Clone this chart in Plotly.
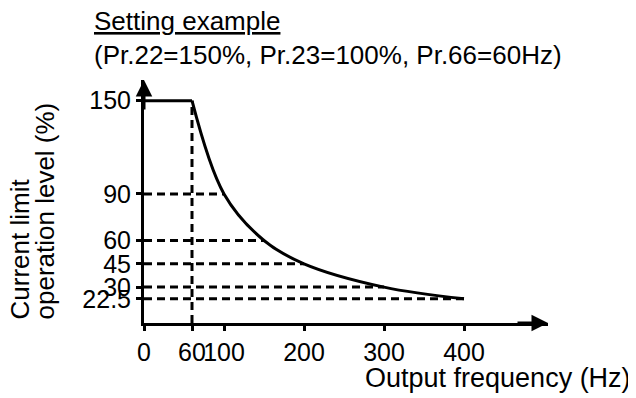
import plotly.graph_objects as go

# --- dados ---
freq_hz = [60, 100, 150, 200, 300, 400]
level_pct = [150, 90, 60, 45, 30, 22.5]
flat_freq = [0, 60]
flat_level = [150, 150]

x_tickvals = [0, 60, 100, 200, 300, 400]
x_ticktext = ["0", "60", "100", "200", "300", "400"]
y_tickvals = [22.5, 30, 45, 60, 90, 150]
y_ticktext = ["22.5", "30", "45", "60", "90", "150"]

title_line1 = "Setting example"
title_line2 = "(Pr.22=150%, Pr.23=100%, Pr.66=60Hz)"
x_title = "Output frequency (Hz)"
y_title_lines = ["Current limit", "operation level (%)"]

# --- layout ---
# a pagina tem margem de 8px no body, entao a figura fica deslocada
OFF = 8
W, H = 636 - OFF, 398 - OFF
ML, MR, MT, MB = 144 - OFF, 88, 80 - OFF, 75
X_RANGE = [0, 505]
Y_RANGE = [6.9, 163.3]
FONT = "Liberation Sans, Arial, sans-serif"


def px_x(p):
    # p = pixel na tela
    return (p - OFF - ML) / (W - ML - MR)


def px_y(p):
    return 1 - (p - OFF - MT) / (H - MT - MB)


# linhas tracejadas de referencia
guide_x, guide_y = [], []
for f, lv in zip(freq_hz[1:], level_pct[1:]):
    guide_x += [0, f, None]
    guide_y += [lv, lv, None]
guide_x += [freq_hz[0], freq_hz[0]]
guide_y += [Y_RANGE[0], level_pct[0]]

fig = go.Figure()

fig.add_trace(go.Scatter(
    x=guide_x, y=guide_y, mode="lines",
    line=dict(color="black", width=3, dash="8px,5px"),
    hoverinfo="skip", showlegend=False,
))

fig.add_trace(go.Scatter(
    x=flat_freq, y=flat_level, mode="lines",
    line=dict(color="black", width=3),
    showlegend=False, cliponaxis=False,
))

fig.add_trace(go.Scatter(
    x=freq_hz, y=level_pct, mode="lines",
    line=dict(color="black", width=3, shape="spline", smoothing=1),
    showlegend=False, cliponaxis=False,
))

annotations = [
    # setas dos eixos
    dict(x=X_RANGE[1], y=Y_RANGE[0], ax=X_RANGE[1] - 40, ay=Y_RANGE[0],
         xref="x", yref="y", axref="x", ayref="y", text="",
         showarrow=True, arrowhead=2, arrowsize=1.1, arrowwidth=3,
         arrowcolor="black"),
    dict(x=X_RANGE[0], y=Y_RANGE[1], ax=X_RANGE[0], ay=Y_RANGE[1] - 20,
         xref="x", yref="y", axref="x", ayref="y", text="",
         showarrow=True, arrowhead=2, arrowsize=1.1, arrowwidth=3,
         arrowcolor="black"),
    # titulos
    dict(x=px_x(92), y=px_y(21), xref="paper", yref="paper",
         xanchor="left", yanchor="middle", showarrow=False,
         text="<u>" + title_line1 + "</u>", font=dict(size=26)),
    dict(x=px_x(92), y=px_y(55), xref="paper", yref="paper",
         xanchor="left", yanchor="middle", showarrow=False,
         text=title_line2, font=dict(size=26)),
    dict(x=px_x(633), y=px_y(378), xref="paper", yref="paper",
         xanchor="right", yanchor="middle", showarrow=False,
         text=x_title, font=dict(size=27)),
]
for cx, line in zip([19, 44], y_title_lines):
    annotations.append(dict(
        x=px_x(cx), y=px_y(322), xref="paper", yref="paper",
        xanchor="center", yanchor="bottom", showarrow=False,
        textangle=-90, text=line, font=dict(size=26),
    ))

fig.update_layout(
    template="none",
    width=W, height=H, autosize=False,
    margin=dict(l=ML, r=MR, t=MT, b=MB, pad=0),
    paper_bgcolor="white", plot_bgcolor="white",
    font=dict(family=FONT, color="black"),
    xaxis=dict(
        range=X_RANGE, showgrid=False, zeroline=False, automargin=False,
        showline=True, linecolor="black", linewidth=3,
        ticks="outside", ticklen=5, tickwidth=2.5, tickcolor="black",
        tickvals=x_tickvals, ticktext=x_ticktext, tickangle=0,
        tickfont=dict(size=25, family=FONT, color="black"),
    ),
    yaxis=dict(
        range=Y_RANGE, showgrid=False, zeroline=False, automargin=False,
        showline=True, linecolor="black", linewidth=3,
        ticks="outside", ticklen=5, tickwidth=2.5, tickcolor="black",
        tickvals=y_tickvals, ticktext=y_ticktext,
        tickfont=dict(size=25, family=FONT, color="black"),
    ),
    annotations=annotations,
)

fig.write_html("out.html")
